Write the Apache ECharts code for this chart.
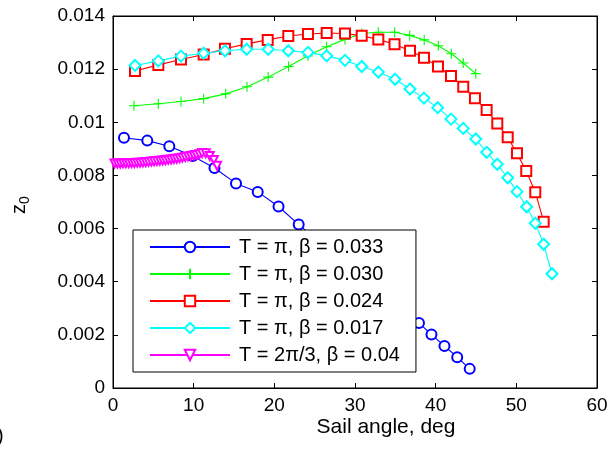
<!DOCTYPE html>
<html>
<head>
<meta charset="utf-8">
<script src="https://cdn.jsdelivr.net/npm/echarts@6/dist/echarts.min.js"></script>
<style>
html,body{margin:0;padding:0;background:#fff;}
#c{width:611px;height:455px;}
</style>
</head>
<body>
<div id="c"></div>
<script>
// ---- data ----
const xTicks = [0, 10, 20, 30, 40, 50, 60];
const yTicks = [0, 0.002, 0.004, 0.006, 0.008, 0.01, 0.012, 0.014];

const blueX = [1.36, 4.25, 6.98, 9.88, 12.58, 15.25, 17.94, 20.52, 23.02, 25.66, 28.26, 30.74, 33.22, 35.57, 37.93, 39.48, 41.09, 42.67, 44.22];
const blueY = [0.00942, 0.00931, 0.00910, 0.00873, 0.00828, 0.00770, 0.00738, 0.00683, 0.00615, 0.00548, 0.00483, 0.00420, 0.00358, 0.00299, 0.00245, 0.00201, 0.00158, 0.00116, 0.00072];

const greenX = [2.60, 5.62, 8.43, 11.24, 13.97, 16.61, 19.24, 21.76, 24.17, 26.49, 28.76, 30.83, 32.89, 34.92, 36.78, 38.58, 40.33, 41.94, 43.42, 44.97];
const greenY = [0.01062, 0.01070, 0.01078, 0.01089, 0.01107, 0.01134, 0.01170, 0.01210, 0.01250, 0.01284, 0.01312, 0.01334, 0.01339, 0.01339, 0.01327, 0.01310, 0.01288, 0.01258, 0.01223, 0.01183];

const redX = [2.73, 5.62, 8.43, 11.24, 13.88, 16.57, 19.18, 21.73, 24.17, 26.49, 28.76, 30.83, 32.89, 34.90, 36.82, 38.55, 40.29, 41.90, 43.42, 44.87, 46.32, 47.64, 48.93, 50.08, 51.23, 52.35, 53.39];
const redY = [0.01193, 0.01216, 0.01236, 0.01255, 0.01277, 0.01295, 0.01310, 0.01325, 0.01332, 0.01336, 0.01334, 0.01326, 0.01312, 0.01294, 0.01269, 0.01243, 0.01210, 0.01174, 0.01134, 0.01090, 0.01046, 0.00995, 0.00944, 0.00883, 0.00817, 0.00737, 0.00626];

const cyanX = [2.73, 5.62, 8.43, 11.24, 13.88, 16.57, 19.25, 21.73, 24.17, 26.49, 28.76, 30.83, 32.89, 34.96, 36.82, 38.55, 40.25, 41.90, 43.42, 44.97, 46.32, 47.64, 48.93, 50.08, 51.28, 52.35, 53.39, 54.42];
const cyanY = [0.01214, 0.01231, 0.01249, 0.01260, 0.01269, 0.01275, 0.01275, 0.01269, 0.01263, 0.01250, 0.01233, 0.01210, 0.01189, 0.01162, 0.01125, 0.01091, 0.01055, 0.01012, 0.00977, 0.00937, 0.00887, 0.00842, 0.00791, 0.00739, 0.00682, 0.00620, 0.00541, 0.00430];

const magX = [0.2, 0.55, 0.9, 1.25, 1.6, 1.95, 2.3, 2.65, 3.0, 3.35, 3.7, 4.05, 4.4, 4.75, 5.1, 5.45, 5.8, 6.15, 6.5, 6.85, 7.2, 7.55, 7.9, 8.25, 8.6, 8.95, 9.3, 9.65, 10.0, 10.35, 10.7, 11.05, 11.5, 12.0, 12.5, 12.9];
const magY = [0.00845, 0.00845, 0.00845, 0.00846, 0.00846, 0.00846, 0.00847, 0.00847, 0.00848, 0.00848, 0.00849, 0.00850, 0.00851, 0.00852, 0.00853, 0.00854, 0.00855, 0.00856, 0.00857, 0.00859, 0.00860, 0.00862, 0.00863, 0.00865, 0.00867, 0.00869, 0.00871, 0.00873, 0.00875, 0.00877, 0.00880, 0.00884, 0.00883, 0.00873, 0.00858, 0.00836];

const seriesNames = ['T = \u03c0, \u03b2 = 0.033', 'T = \u03c0, \u03b2 = 0.030', 'T = \u03c0, \u03b2 = 0.024', 'T = \u03c0, \u03b2 = 0.017', 'T = 2\u03c0/3, \u03b2 = 0.04'];
const xLabel = 'Sail angle, deg';

// ---- build chart ----
const FONT = '"Liberation Sans", Arial, Helvetica, sans-serif';
const zip = (xs, ys) => xs.map((x, i) => [x, ys[i]]);
const plusPath = 'path://M5,0L5,10M0,5L10,5';

function mk(name, xs, ys, color, symbol, size, rotate) {
  const s = {
    name: name,
    type: 'line',
    data: zip(xs, ys),
    symbol: symbol,
    symbolSize: size,
    showAllSymbol: true,
    lineStyle: { color: color, width: 1.1 },
    itemStyle: { color: color, borderColor: color, borderWidth: 1.1 },
    clip: false,
    z: 3
  };
  if (rotate) s.symbolRotate = rotate;
  return s;
}

const axisCommon = {
  type: 'value',
  axisLine: { show: true, onZero: false, lineStyle: { color: '#000', width: 1 } },
  axisTick: { show: true, inside: true, length: 5, lineStyle: { color: '#000' } },
  splitLine: { show: false }
};

const chart = echarts.init(document.getElementById('c'), null, { renderer: 'canvas' });
chart.setOption({
  animation: false,
  backgroundColor: '#fff',
  grid: { left: 113, right: 14, top: 16, bottom: 67, containLabel: false,
          show: true, borderColor: '#000', borderWidth: 1, backgroundColor: 'transparent' },
  xAxis: [
    Object.assign({}, axisCommon, {
      min: xTicks[0], max: xTicks[xTicks.length - 1], interval: xTicks[1] - xTicks[0],
      position: 'bottom',
      axisLabel: { color: '#000', fontSize: 19, fontFamily: FONT, margin: 8 }
    }),
    Object.assign({}, axisCommon, {
      min: xTicks[0], max: xTicks[xTicks.length - 1], interval: xTicks[1] - xTicks[0],
      position: 'top', axisLabel: { show: false }
    })
  ],
  yAxis: [
    Object.assign({}, axisCommon, {
      min: yTicks[0], max: yTicks[yTicks.length - 1], interval: yTicks[1] - yTicks[0],
      position: 'left',
      axisLabel: { color: '#000', fontSize: 19, fontFamily: FONT, margin: 8,
        formatter: v => String(parseFloat(v.toFixed(3))) }
    }),
    Object.assign({}, axisCommon, {
      min: yTicks[0], max: yTicks[yTicks.length - 1], interval: yTicks[1] - yTicks[0],
      position: 'right', axisLabel: { show: false }
    })
  ],
  legend: {
    orient: 'vertical',
    left: 133, top: 230,
    padding: [7, 16, 7, 16],
    itemWidth: 80, itemHeight: 13, itemGap: 7,
    backgroundColor: '#fff',
    borderColor: '#000', borderWidth: 1,
    textStyle: { color: '#000', fontSize: 20, fontFamily: FONT, lineHeight: 20, padding: [0, 0, 0, 4] },
    data: seriesNames,
    z: 10
  },
  graphic: [
    {
      type: 'group', x: 19, y: 214, rotation: Math.PI / 2, silent: true,
      children: [
        { type: 'text', x: 0, y: 0, style: { text: 'z', fontSize: 20, fontFamily: FONT, fill: '#000', textAlign: 'left', textVerticalAlign: 'middle' } },
        { type: 'text', x: 10, y: 6, style: { text: '0', fontSize: 14, fontFamily: FONT, fill: '#000', textAlign: 'left', textVerticalAlign: 'middle' } }
      ]
    },
    { type: 'text', x: 386, y: 427, silent: true,
      style: { text: xLabel, fontSize: 21, fontFamily: FONT, fill: '#000', textAlign: 'center', textVerticalAlign: 'middle' } },
    { type: 'text', left: -3, top: 426, silent: true, style: { text: ')', fontSize: 20, fontFamily: FONT, fill: '#000' } }
  ],
  series: [
    mk(seriesNames[0], blueX, blueY, '#0000ff', 'emptyCircle', 10),
    mk(seriesNames[1], greenX, greenY, '#00ff00', plusPath, 10),
    mk(seriesNames[2], redX, redY, '#ff0000', 'emptyRect', 10),
    mk(seriesNames[3], cyanX, cyanY, '#00ffff', 'emptyDiamond', 11),
    mk(seriesNames[4], magX, magY, '#ff00ff', 'emptyTriangle', 8, 180)
  ]
});
</script>
</body>
</html>
